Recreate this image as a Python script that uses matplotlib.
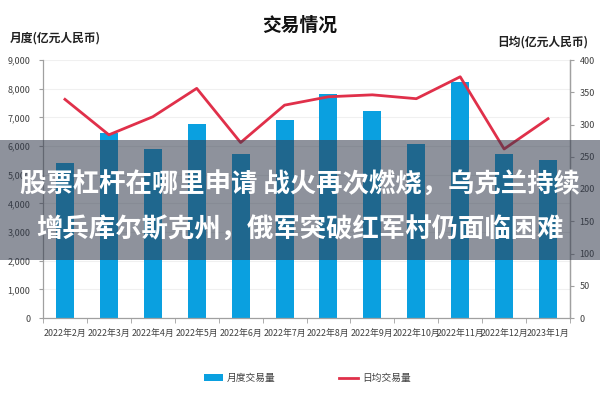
import matplotlib
matplotlib.use("Agg")
import matplotlib.pyplot as plt
from matplotlib.patches import Rectangle, Patch
from matplotlib.lines import Line2D
import numpy as np

plt.rcParams['font.family'] = ['Noto Sans CJK SC', 'DejaVu Sans']

months = ["2022年2月", "2022年3月", "2022年4月", "2022年5月", "2022年6月", "2022年7月",
          "2022年8月", "2022年9月", "2022年10月", "2022年11月", "2022年12月", "2023年1月"]
monthly_volume = [5420, 6460, 5900, 6760, 5720, 6900, 7810, 7230, 6080, 8240, 5730, 5510]
daily_avg = [339, 284, 312, 356, 272, 330, 343, 346, 340, 374, 262, 309]
left_ticks = [0, 1000, 2000, 3000, 4000, 5000, 6000, 7000, 8000, 9000]
right_ticks = [0, 50, 100, 150, 200, 250, 300, 350, 400]

title = "交易情况"
left_label = "月度(亿元人民币)"
right_label = "日均(亿元人民币)"
bar_legend = "月度交易量"
line_legend = "日均交易量"
overlay_lines = ["股票杠杆在哪里申请 战火再次燃烧，乌克兰持续", "增兵库尔斯克州，俄军突破红军村仍面临困难"]

bar_color = "#0aa0e0"
line_color = "#e0304a"
axis_gray = "#a0a0a0"
text_gray = "#404040"

fig = plt.figure(figsize=(6, 4), dpi=100)
ax = fig.add_axes([43/600, 1-318/400, (570-43)/600, (318-60)/400])
x = np.arange(len(months))
ax.bar(x, monthly_volume, width=0.41, color=bar_color, zorder=2)
ax.set_ylim(0, 9000)
ax.set_xlim(-0.5, len(months)-0.5)
ax.set_yticks(left_ticks)
ax.set_yticklabels([f"{v:,}" for v in left_ticks])
ax.yaxis.grid(True, color="#f0f0f0", linewidth=0.8, zorder=0)
ax.set_axisbelow(True)
ax.set_xticks(x)
ax.set_xticklabels(months)
ax.set_xticks(np.arange(-0.5, len(months), 1.0), minor=True)
ax.tick_params(axis='x', which='major', length=0, pad=8, labelsize=6.4, colors=text_gray)
ax.tick_params(axis='x', which='minor', length=3.5, color=axis_gray, direction='out')
ax.tick_params(axis='y', length=3, color=axis_gray, labelsize=6.5, colors=text_gray, pad=6)
for s in ['top']:
    ax.spines[s].set_visible(False)
for s in ['left', 'right', 'bottom']:
    ax.spines[s].set_color(axis_gray)
    ax.spines[s].set_linewidth(0.9)

ax2 = ax.twinx()
ax2.plot(x, daily_avg, color=line_color, linewidth=2.0, zorder=3)
ax2.set_ylim(0, 400)
ax2.set_yticks(right_ticks)
ax2.tick_params(axis='y', length=3, color=axis_gray, labelsize=6.5, colors=text_gray, pad=4)
for s in ['top', 'left', 'bottom']:
    ax2.spines[s].set_visible(False)
ax2.spines['right'].set_color(axis_gray)
ax2.spines['right'].set_linewidth(0.9)

fig.text(0.5, 1-25/400, title, ha='center', va='center', fontsize=13.5, fontweight='bold', color='#111111')
fig.text(10/600, 1-38/400, left_label, ha='left', va='center', fontsize=8.5, fontweight='bold', color='#222222')
fig.text(588/600, 1-42/400, right_label, ha='right', va='center', fontsize=8.5, fontweight='bold', color='#222222')

handles = [Patch(facecolor=bar_color, edgecolor='none'),
           Line2D([0], [0], color=line_color, linewidth=2)]
fig.legend(handles, [bar_legend, line_legend], loc='center', bbox_to_anchor=(0.512, 1-378/400),
           ncol=2, frameon=False, fontsize=7, columnspacing=6.5, handlelength=2.0,
           handleheight=0.6, handletextpad=0.4, labelcolor=text_gray)

fig.patches.append(Rectangle((0, 1-260/400), 1, 120/400, transform=fig.transFigure,
                             facecolor=(49/255, 57/255, 75/255), alpha=0.55, edgecolor='none', zorder=10))
fig.text(0.5, 1-185/400, overlay_lines[0], ha='center', va='center', fontsize=19,
         fontweight='bold', color='white', zorder=11)
fig.text(0.5, 1-230/400, overlay_lines[1], ha='center', va='center', fontsize=19,
         fontweight='bold', color='white', zorder=11)

fig.savefig("out.png", dpi=100)
